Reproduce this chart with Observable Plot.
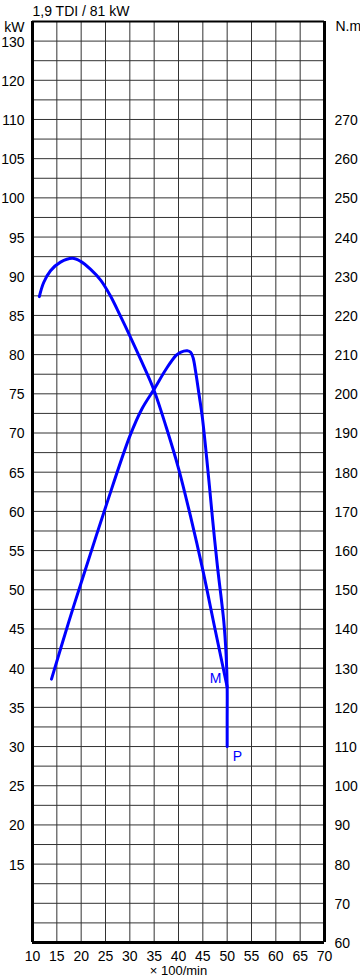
<!DOCTYPE html>
<html><head><meta charset="utf-8">
<script src="https://cdn.jsdelivr.net/npm/d3@7"></script>
<script src="https://cdn.jsdelivr.net/npm/@observablehq/plot@0.6"></script>
<style>body{margin:0;background:#fff}#chart svg{display:block}</style>
</head><body><div id="chart"></div>
<script>
// Engine speed (× 100/min)
const xTicks = [10,15,20,25,30,35,40,45,50,55,60,65,70];
// Left axis (kW) tick positions and their printed labels (as printed on the original)
const kwTicks = [15,20,25,30,35,40,45,50,55,60,65,70,75,80,85,90,95,100,105,110,115,120];
const kwTickLabels = ["15","20","25","30","35","40","45","50","55","60","65","70","75","80","85","90","95","100","105","110","120","130"];
// Right axis (N.m)
const nmTicks = [60,70,80,90,100,110,120,130,140,150,160,170,180,190,200,210,220,230,240,250,260,270];

// Power curve P (kW)
const powerRpm = [13.9,17.5,20,25,30,32.5,35,37.5,39.5,40.4,41.8,42.5,43.0,43.5,44.2,44.9,46,47,48,49.3,49.8,50,50,50];
const powerKw  = [38.6,46.0,50.9,60.5,69.6,73.1,75.6,78.2,79.9,80.3,80.5,80.3,79.6,77.9,75.0,72.0,65.5,59.0,53.0,46.0,41.5,37.6,33.5,30.0];

// Torque curve M (N.m)
const torqueRpm = [11.4,12.3,13.7,15.75,18.2,19.9,21.9,24,26,28,30,32.5,35,37.5,40,42.5,45,47.5,50];
const torqueNm  = [224.8,228.4,231.4,233.6,234.6,233.8,231.8,229,225,220,214.8,208,200.8,191.4,181,168.6,155,140,125.2];

// Curve end labels
const labelText = ["M","P"];
const labelRpm = [47.6,52.1];
const labelKw = [38.7,28.7];

const nmToKw = nm => (nm - 50) / 2;
const kwToNm = kw => kw * 2 + 50;

const power = powerRpm.map((r,i)=>({rpm:r, kw:powerKw[i]}));
const torque = torqueRpm.map((r,i)=>({rpm:r, kw:nmToKw(torqueNm[i])}));
const labels = labelText.map((t,i)=>({t, rpm:labelRpm[i], kw:labelKw[i]}));

const gridX = d3.range(15, 70, 5);
const gridY = d3.range(7.5, 122.5, 2.5);
const blue = "#0000ff";

const chart = Plot.plot({
  width: 360,
  height: 978,
  marginLeft: 32,
  marginRight: 36,
  marginTop: 21,
  marginBottom: 36,
  style: {fontFamily: "'Liberation Sans', Arial, sans-serif", fontSize: "14px", color: "#000", background: "#fff"},
  x: {domain: [10, 70], axis: null},
  y: {domain: [5, 122.5], axis: null},
  marks: [
    Plot.ruleX(gridX, {stroke: "#333", strokeWidth: 1}),
    Plot.ruleY(gridY, {stroke: "#333", strokeWidth: 1}),
    Plot.ruleX([10, 70], {stroke: "#000", strokeWidth: 3}),
    Plot.ruleY([5], {stroke: "#000", strokeWidth: 3}),
    Plot.ruleY([122.5], {stroke: "#000", strokeWidth: 2}),
    Plot.axisX(xTicks, {anchor: "bottom", tickSize: 0, tickPadding: 9, label: null, fontSize: 14}),
    Plot.axisY(kwTicks, {anchor: "left", tickSize: 0, tickPadding: 8, label: null, fontSize: 14,
      tickFormat: d => kwTickLabels[kwTicks.indexOf(d)], dy: 1}),
    Plot.axisY(nmTicks.map(nmToKw), {anchor: "right", tickSize: 0, tickPadding: 10, label: null, fontSize: 14,
      tickFormat: d => String(Math.round(kwToNm(d))), dy: 1}),
    Plot.line(torque, {x: "rpm", y: "kw", stroke: blue, strokeWidth: 3, curve: "catmull-rom"}),
    Plot.line(power, {x: "rpm", y: "kw", stroke: blue, strokeWidth: 3, curve: "catmull-rom"}),
    Plot.text(labels, {x: "rpm", y: "kw", text: "t", fill: blue, fontSize: 14}),
    Plot.text(["1,9 TDI / 81 kW"], {frameAnchor: "top-left", textAnchor: "start", dx: 0, dy: -15, fontSize: 14}),
    Plot.text(["kW"], {frameAnchor: "top-left", textAnchor: "end", dx: -8, dy: 1, fontSize: 14}),
    Plot.text(["N.m"], {frameAnchor: "top-right", textAnchor: "start", dx: 11, dy: 0, fontSize: 14}),
    Plot.text(["× 100/min"], {frameAnchor: "bottom", fontSize: 13, lineAnchor: "top", dy: 23})
  ]
});
document.getElementById("chart").append(chart);
</script>
</body></html>
